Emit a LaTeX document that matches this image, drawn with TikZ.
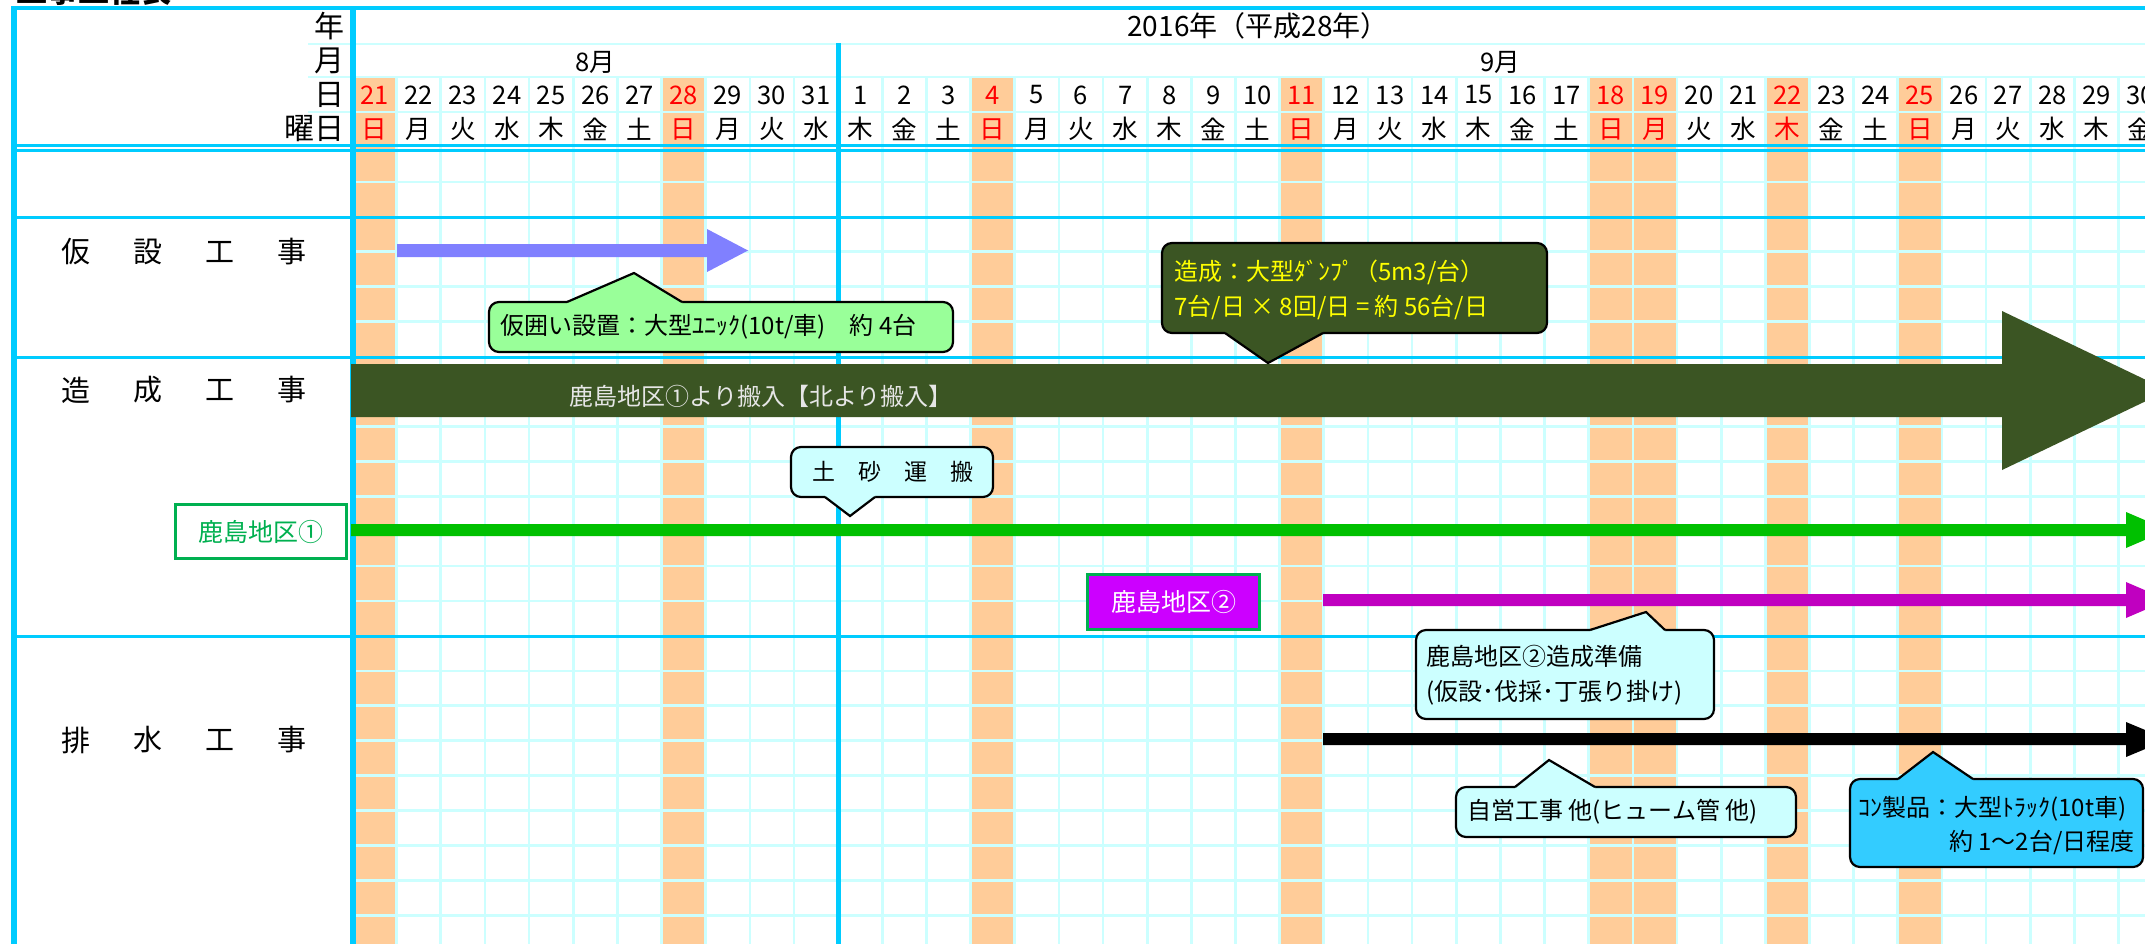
\documentclass[tikz,border=0pt]{standalone}
\usepackage{fontspec}
\setmainfont{Noto Sans CJK JP}
\definecolor{skyb}{HTML}{00CCFF}
\definecolor{gridc}{HTML}{CCFFFF}
\definecolor{hol}{HTML}{FFCC99}
\definecolor{lilac}{HTML}{8080FF}
\definecolor{dkgreen}{HTML}{3B5523}
\definecolor{brgreen}{HTML}{00C000}
\definecolor{magen}{HTML}{C000C0}
\definecolor{violetb}{HTML}{CC00FF}
\definecolor{lcyan}{HTML}{CCFFFF}
\definecolor{cblue}{HTML}{33CCFF}
\definecolor{lgreen}{HTML}{99FF99}
\definecolor{kgreen}{HTML}{00B050}
\definecolor{bartext}{HTML}{E6E6E6}
\definecolor{yel}{HTML}{FFFF00}
\newcommand\fs[2]{\fontsize{#1}{#2}\selectfont}
\tikzset{
  gline/.style={draw=gridc, line width=1.35pt},
  bline/.style={draw=skyb, line width=2pt},
  secline/.style={draw=skyb, line width=1.5pt},
  hdr/.style={font=\fs{15pt}{17pt}, inner sep=0pt},
  dnum/.style={font=\fs{12.8pt}{14pt}, inner sep=0pt},
  wday/.style={font=\fs{12.8pt}{14pt}, inner sep=0pt},
  seclab/.style={font=\fs{14.5pt}{16pt}, inner sep=0pt},
  cbox/.style={draw=black, line width=1.1pt, rounded corners=5pt},
  cptr/.style={draw=black, line width=1.1pt, line join=miter},
  ctext/.style={font=\fs{12pt}{17.5pt}, inner sep=0pt, align=left},
  kbox/.style={draw=kgreen, line width=1.5pt, inner sep=0pt, font=\fs{12.5pt}{14pt}},
}
\begin{document}
\begin{tikzpicture}[x=0.5pt,y=-0.5pt]
\useasboundingbox (0,0) rectangle (2145,944);
\fill[white] (0,0) rectangle (2145,944);

% holiday columns
\foreach \i in {0,7,14,21,28,29,32,35}
  \fill[hol] ({352.5+44.15*\i},78) rectangle ({352.5+44.15*(\i+1)},944);

% grid lines
\foreach \i in {1,...,40}
  \draw[gline] ({352.5+44.15*\i},78) -- ({352.5+44.15*\i},944);
\foreach \y in {44,77,112}
  \draw[gline] (308,\y) -- (2145,\y);
\foreach \k in {0,2,3,4,6,7,8,9,10,11,12,14,15,16,17,18,19,20,21}
  \draw[gline] (355,{182+34.92*\k}) -- (2145,{182+34.92*\k});

% blue frame lines
\draw[bline] (11.5,8) -- (2145,8);
\draw[bline, line width=2.75pt] (14,6) -- (14,944);
\draw[bline, line width=3pt] (353,6) -- (353,944);
\draw[bline, line width=2.3pt] (838.7,43) -- (838.7,944);
\draw[secline] (12,145.4) -- (2145,145.4);
\draw[secline] (12,150.4) -- (2145,150.4);
\draw[secline] (12,217) -- (2145,217);
\draw[secline] (12,357) -- (2145,357);
\draw[secline] (12,636.5) -- (2145,636.5);

% title (cut by the page edge)
\node[font=\bfseries\fs{15.5pt}{18pt}, anchor=base west, inner sep=0pt] (title) at (16,2) {工事工程表};

% header labels
\node[hdr, anchor=east] (hy) at (345,26) {年};
\node[hdr, anchor=east] (hm) at (345,61) {月};
\node[hdr, anchor=east] (hd) at (345,95) {日};
\node[hdr, anchor=east] (hw) at (345,129) {曜日};

\node[font=\fs{14pt}{16pt}, inner sep=0pt] (year) at (1258,26) {2016年（平成28年）};
\node[font=\fs{12.8pt}{14pt}, inner sep=0pt] (m8) at (595,62) {8月};
\node[font=\fs{12.8pt}{14pt}, inner sep=0pt] (m9) at (1500,62) {9月};

\foreach \d/\w/\h [count=\i from 0] in {21/日/1,22/月/0,23/火/0,24/水/0,25/木/0,26/金/0,27/土/0,28/日/1,29/月/0,30/火/0,31/水/0,1/木/0,2/金/0,3/土/0,4/日/1,5/月/0,6/火/0,7/水/0,8/木/0,9/金/0,10/土/0,11/日/1,12/月/0,13/火/0,14/水/0,15/木/0,16/金/0,17/土/0,18/日/1,19/月/1,20/火/0,21/水/0,22/木/1,23/金/0,24/土/0,25/日/1,26/月/0,27/火/0,28/水/0,29/木/0,30/金/0}{
  \pgfmathsetmacro\xc{374.6+44.15*\i}
  \ifnum\h=1\relax \colorlet{tcol}{red}\else\colorlet{tcol}{black}\fi
  \node[dnum, text=tcol] (d\i) at (\xc,95) {\d};
  \node[wday, text=tcol] (w\i) at (\xc,129) {\w};
}

% section labels
\foreach \c [count=\j from 0] in {仮,設,工,事}
  \node[seclab] (ka\j) at ({76+72*\j},252) {\c};
\foreach \c [count=\j from 0] in {造,成,工,事}
  \node[seclab] (zo\j) at ({76+72*\j},390) {\c};
\foreach \c [count=\j from 0] in {排,水,工,事}
  \node[seclab] (ha\j) at ({76+72*\j},740) {\c};

% bars / arrows
\fill[lilac] (397,244) -- (707,244) -- (707,229) -- (748,250.5) -- (707,272) -- (707,257) -- (397,257) -- cycle;
\fill[dkgreen] (351,364) -- (2002,364) -- (2002,311) -- (2168,390.5) -- (2002,470) -- (2002,417) -- (351,417) -- cycle;
\node[font=\fs{12pt}{14pt}, text=bartext, inner sep=0pt] (bartxt) at (761,396) {鹿島地区①より搬入【北より搬入】};
\fill[brgreen] (351,524) -- (2126,524) -- (2126,512) -- (2168,530) -- (2126,548) -- (2126,536) -- (351,536) -- cycle;
\fill[magen] (1323,594) -- (2126,594) -- (2126,582) -- (2168,600) -- (2126,618) -- (2126,606) -- (1323,606) -- cycle;
\fill[black] (1323,733) -- (2126,733) -- (2126,722) -- (2168,739.5) -- (2126,757) -- (2126,745) -- (1323,745) -- cycle;

% label boxes
\node[kbox, fill=white, text=kgreen, minimum width=85.5pt, minimum height=27pt] (k1) at (261,531.5) {鹿島地区①};
\node[kbox, fill=violetb, text=white, minimum width=86pt, minimum height=27.5pt] (k2) at (1173.5,602) {鹿島地区②};

% callout 1 (green)
\draw[cbox, fill=lgreen] (489,302) rectangle (953,352);
\fill[lgreen] (567,302) -- (634,273) -- (682,302) -- (682,305) -- (567,305) -- cycle;
\draw[cptr] (567,302) -- (634,273) -- (682,302);
\node[ctext, anchor=west] (c1) at (500,327) {仮囲い設置：大型ﾕﾆｯｸ(10t/車)　約 4台};

% callout 2 (dark green)
\draw[cbox, fill=dkgreen] (1162,243) rectangle (1547,333);
\fill[dkgreen] (1225,333) -- (1268,363) -- (1323,333) -- (1323,330) -- (1225,330) -- cycle;
\draw[cptr] (1225,333) -- (1268,363) -- (1323,333);
\node[ctext, text=yel, anchor=west] (c2) at (1174,289.5) {造成：大型ﾀﾞﾝﾌﾟ（5m3/台）\\7台/日 × 8回/日 = 約 56台/日};

% callout 3
\draw[cbox, fill=lcyan] (791,447) rectangle (993,497);
\fill[lcyan] (825,497) -- (850,516) -- (875,497) -- (875,494) -- (825,494) -- cycle;
\draw[cptr] (825,497) -- (850,516) -- (875,497);
\node[font=\fs{11.5pt}{13pt}, inner sep=0pt] (c3) at (893,472) {土　砂　運　搬};

% callout 4
\draw[cbox, fill=lcyan] (1416,630) rectangle (1714,719);
\fill[lcyan] (1590,630) -- (1646,612) -- (1665,630) -- (1665,633) -- (1590,633) -- cycle;
\draw[cptr] (1590,630) -- (1646,612) -- (1665,630);
\node[ctext, anchor=west] (c4) at (1426,675) {鹿島地区②造成準備\\(仮設･伐採･丁張り掛け)};

% callout 5
\draw[cbox, fill=lcyan] (1456,787) rectangle (1796,837);
\fill[lcyan] (1515,787) -- (1549,760) -- (1595,787) -- (1595,790) -- (1515,790) -- cycle;
\draw[cptr] (1515,787) -- (1549,760) -- (1595,787);
\node[ctext, anchor=west] (c5) at (1467,812) {自営工事 他(ヒューム管 他)};

% callout 6
\draw[cbox, fill=cblue] (1850,779) rectangle (2143,867);
\fill[cblue] (1898,779) -- (1933,752) -- (1973,779) -- (1973,782) -- (1898,782) -- cycle;
\draw[cptr] (1898,779) -- (1933,752) -- (1973,779);
\node[ctext, anchor=west] (c6a) at (1858,808.5) {ｺﾝ製品：大型ﾄﾗｯｸ(10t車)};
\node[ctext, anchor=east] (c6b) at (2135,842) {約 1～2台/日程度};
\end{tikzpicture}
\end{document}
